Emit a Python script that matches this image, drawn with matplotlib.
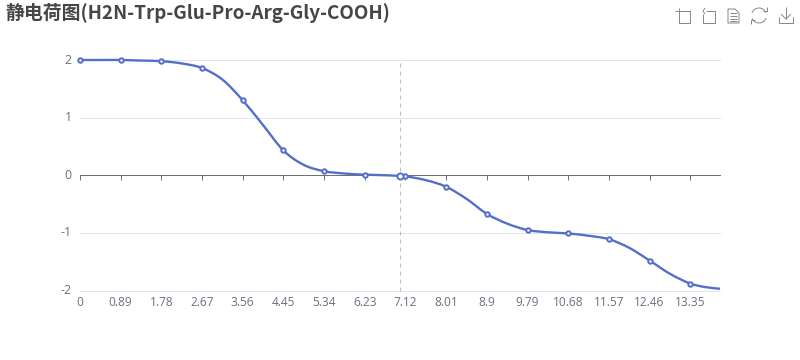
import matplotlib
matplotlib.use("Agg")
import matplotlib.pyplot as plt
from matplotlib.patches import Arc, PathPatch
from matplotlib.path import Path
from matplotlib.transforms import ScaledTranslation

plt.rcParams['font.family'] = ['Noto Sans CJK SC', 'DejaVu Sans']

title = "静电荷图(H2N-Trp-Glu-Pro-Arg-Gly-COOH)"
tick_values = [0, 0.89, 1.78, 2.67, 3.56, 4.45, 5.34, 6.23, 7.12, 8.01, 8.9, 9.79, 10.68, 11.57, 12.46, 13.35]
tick_labels = ["0", "0.89", "1.78", "2.67", "3.56", "4.45", "5.34", "6.23", "7.12", "8.01", "8.9", "9.79", "10.68", "11.57", "12.46", "13.35"]
y_ticks = [-2, -1, 0, 1, 2]

marker_ph = [0, 0.89, 1.78, 2.67, 3.56, 4.45, 5.34, 6.23, 7.12, 8.01, 8.9, 9.79, 10.68, 11.57, 12.46, 13.35]
marker_charge = [2.0, 2.0, 1.98, 1.86, 1.30, 0.43, 0.07, 0.01, -0.02, -0.20, -0.67, -0.95, -1.01, -1.11, -1.48, -1.88]

curve_ph = [0, 0.445, 0.89, 1.335, 1.78, 2.225, 2.67, 3.115, 3.56, 4.005, 4.45,
            4.895, 5.34, 5.785, 6.23, 6.675, 7.12, 7.565, 8.01, 8.455,
            8.9, 9.345, 9.79, 10.235, 10.68, 11.125, 11.57, 12.015, 12.46,
            12.905, 13.35, 13.675, 14.0]
curve_charge = [2.0, 2.0, 2.0, 1.99, 1.98, 1.94, 1.86, 1.66, 1.30, 0.87, 0.43,
                0.18, 0.07, 0.03, 0.01, 0.0, -0.02, -0.085, -0.20, -0.41,
                -0.67, -0.84, -0.95, -0.99, -1.01, -1.05, -1.11, -1.26, -1.48,
                -1.71, -1.88, -1.94, -1.97]
hover_ph = [7.0]
hover_charge = [-0.01]

BLUE = "#5470C6"
AXIS = "#6E7079"
GRID = "#E0E6F1"
PX = 0.72

fig = plt.figure(figsize=(8, 3.6), dpi=100, facecolor="white")
ax = fig.add_axes([80/800, 1-290.5/360, 640/800, 230.5/360])
ax.set_xlim(0, 14)
ax.set_ylim(-2, 2)

for s in ("top", "right", "left"):
    ax.spines[s].set_visible(False)
ax.spines["bottom"].set_position(("data", 0))
ax.spines["bottom"].set_color(AXIS)
ax.spines["bottom"].set_linewidth(PX)
ax.set_xticks(tick_values)
ax.tick_params(axis="x", length=3.6, width=PX, color=AXIS, labelbottom=False, direction="out")
ax.set_yticks(y_ticks)
ax.set_yticklabels([str(v) for v in y_ticks], family="Open Sans")
ax.tick_params(axis="y", length=0, pad=6, labelsize=8.8, labelcolor=AXIS)
for lab in ax.get_yticklabels():
    lab.set_transform(lab.get_transform() + ScaledTranslation(0, 1.5 / 100, fig.dpi_scale_trans))
for v in y_ticks:
    if v != 0:
        ax.axhline(v, color=GRID, lw=PX, zorder=1, clip_on=False)

sec = ax.secondary_xaxis(0)
sec.set_xticks(tick_values)
sec.set_xticklabels(tick_labels, family="Open Sans")
sec.tick_params(axis="x", length=0, pad=4, labelsize=8.6, labelcolor=AXIS)
sec.spines["bottom"].set_visible(False)

ax.axvline(hover_ph[0], color="#B6BBCB", lw=PX, ls=(0, (4, 4)), zorder=2, clip_on=False)

# smooth line through the read points, drawn as cubic Bezier segments
verts = [(curve_ph[0], curve_charge[0])]
codes = [Path.MOVETO]
n = len(curve_ph)
for i in range(n - 1):
    i0, i3 = max(i - 1, 0), min(i + 2, n - 1)
    h = curve_ph[i + 1] - curve_ph[i]
    m1 = (curve_charge[i + 1] - curve_charge[i0]) / (curve_ph[i + 1] - curve_ph[i0])
    m2 = (curve_charge[i3] - curve_charge[i]) / (curve_ph[i3] - curve_ph[i])
    verts += [(curve_ph[i] + h / 3, curve_charge[i] + m1 * h / 3),
              (curve_ph[i + 1] - h / 3, curve_charge[i + 1] - m2 * h / 3),
              (curve_ph[i + 1], curve_charge[i + 1])]
    codes += [Path.CURVE4] * 3
ax.add_patch(PathPatch(Path(verts, codes), fc="none", ec=BLUE, lw=1.7, zorder=3, clip_on=False))

ax.plot(marker_ph, marker_charge, ls="none", marker="o", ms=3.2, mfc="white", mec=BLUE, mew=1.4, zorder=4, clip_on=False)
ax.plot(hover_ph, hover_charge, ls="none", marker="o", ms=4.4, mfc="white", mec=BLUE, mew=1.4, zorder=5, clip_on=False)

fig.text(5/800, 1-13/360, title, fontsize=13.6, fontweight="bold", color="#464646", ha="left", va="center")

# toolbox icons, in pixel coordinates
ov = fig.add_axes([0, 0, 1, 1], facecolor="none")
ov.set_xlim(0, 800)
ov.set_ylim(360, 0)
ov.axis("off")
ICON = "#8A8A8A"
ic = dict(color=ICON, lw=PX, solid_capstyle="butt")
# crop
ov.plot([679, 690, 690, 679, 679], [11, 11, 23, 23, 11], **ic)
ov.plot([675, 682], [11, 11], **ic)
ov.plot([679, 679], [8, 14], **ic)
# undo
ov.plot([706, 715, 715, 703, 703], [11, 11, 23, 23, 14], **ic)
ov.plot([705, 703, 705], [8, 11, 14], **ic)
# data view
ov.plot([728, 735, 739, 739, 728, 728], [9, 9, 13, 23, 23, 9], **ic)
for y in (13, 16, 18.5, 21):
    ov.plot([730, 737], [y, y], **ic)
# restore
ov.add_patch(Arc((759, 15.5), 15, 15, theta1=200, theta2=340, color=ICON, lw=PX))
ov.add_patch(Arc((759, 15.5), 15, 15, theta1=20, theta2=160, color=ICON, lw=PX))
ov.plot([763, 767, 767], [11, 11, 7], **ic)
ov.plot([751, 751, 755], [24, 20, 20], **ic)
# save
ov.plot([779, 779, 793, 793], [17, 22.5, 22.5, 17], **ic)
ov.plot([786, 786], [7, 19], **ic)
ov.plot([781, 786, 791], [14, 19, 14], **ic)

fig.savefig("out.png", dpi=100, facecolor="white")
